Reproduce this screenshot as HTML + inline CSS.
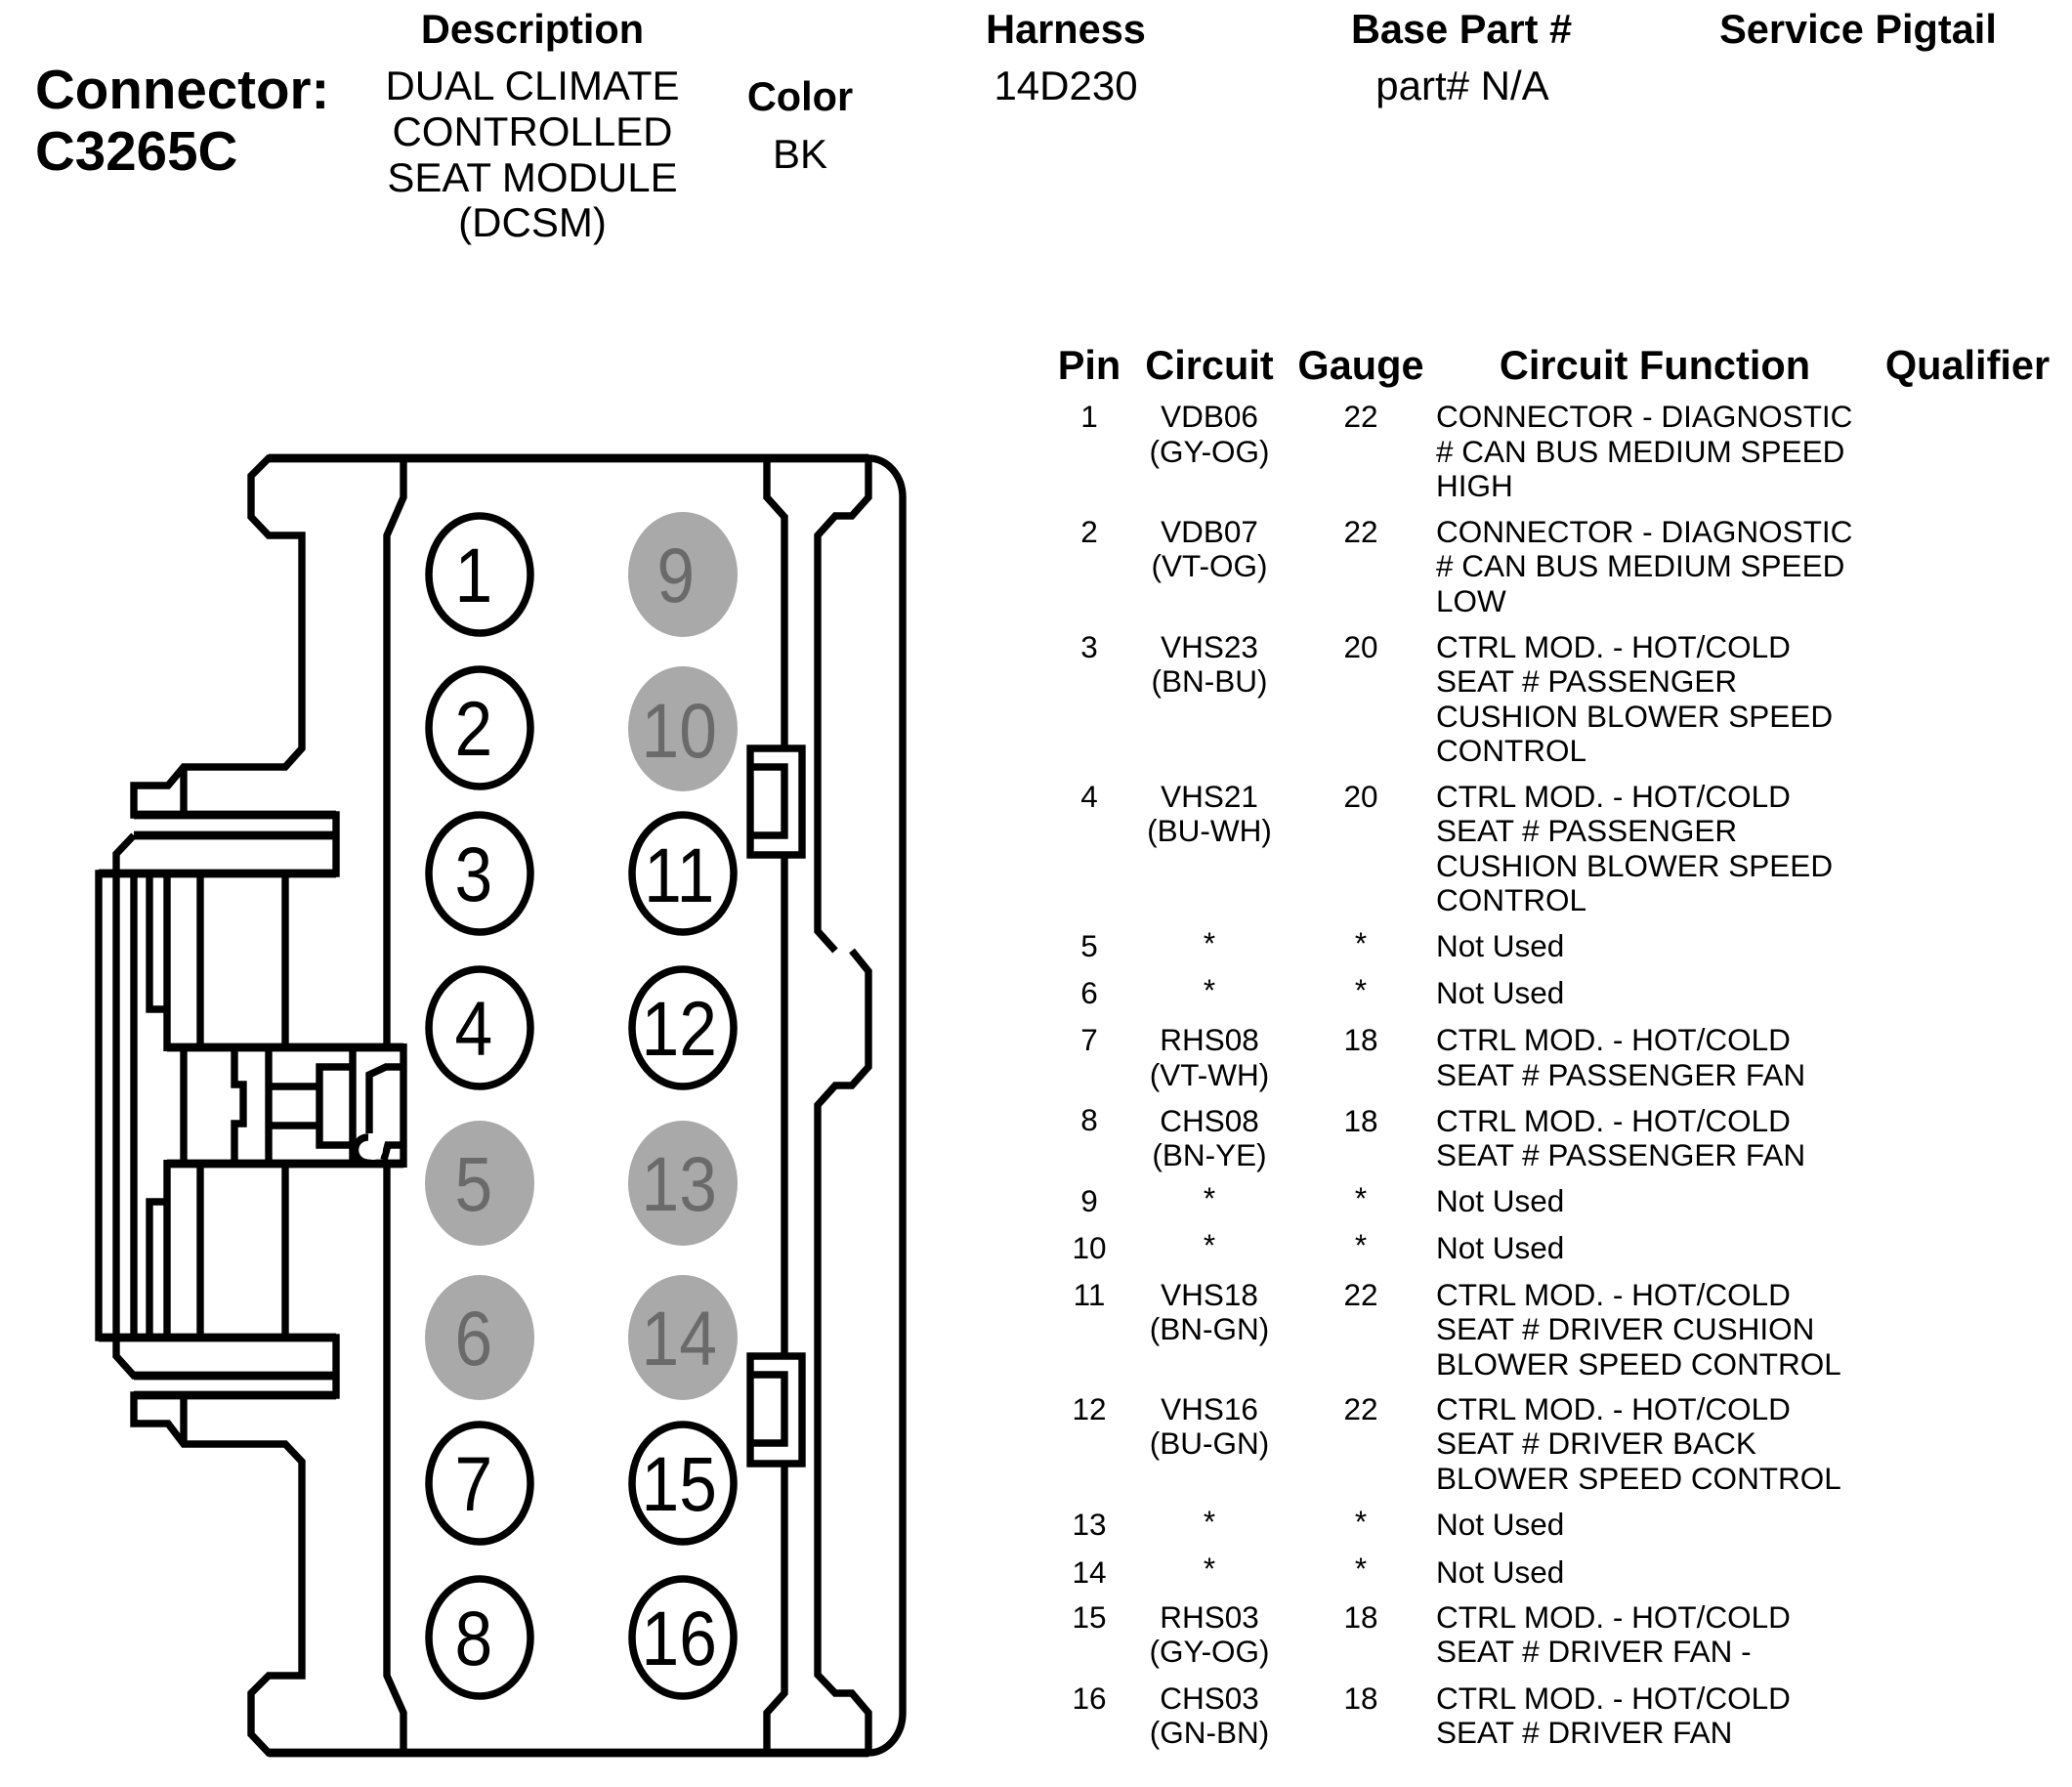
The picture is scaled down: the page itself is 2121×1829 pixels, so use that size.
<!DOCTYPE html>
<html><head><meta charset="utf-8"><style>
html,body{margin:0;padding:0;background:#fff}
svg{display:block}
text{font-family:"Liberation Sans",Arial,sans-serif;fill:#000}
.b{font-weight:bold;font-size:41.5px;text-anchor:middle}
.d{font-size:42px;text-anchor:middle}
.c{font-weight:bold;font-size:56.5px}
.t{font-size:31.5px}
.m{font-size:31.5px;text-anchor:middle}
.n{font-size:79px;text-anchor:middle}
.g{fill:#6a6a6a}
path,line{fill:none;stroke:#000;stroke-width:7.4;stroke-linejoin:miter}
path.h{stroke-width:8.8}
.p{fill:#fff;stroke:#000;stroke-width:7.5}
.q{fill:#a9a9a9;stroke:none}
</style></head><body>
<svg width="2121" height="1829" viewBox="0 0 2121 1829" xmlns="http://www.w3.org/2000/svg">
<rect width="2121" height="1829" fill="#fff"/>
<!-- outline -->
<path d="M889 469H275L257 487V529L275 548H309V766L292 785H188L172 804H137V834H344V894H101V1369H344V1428H137V1457H172L188 1478H292L309 1496V1715H275L257 1733V1775L275 1794H889"/>
<path d="M137 855H344M137 855L119 874V894M119 1369V1388L137 1408H344"/>
<path class="h" d="M275 469H889M275 1794H889M137 834H344M137 855H344M101 894H344M101 1369H344M137 1408H344M137 1428H344M171 1072H413M171 1191H413"/>
<path d="M188 785V834M188 1428V1478"/>
<path d="M119 894V1369M137 894V1369"/>
<path d="M153 894V1033H171M171 894V1076M205 894V1072M292 894V1072"/>
<path d="M153 1369V1230H171M171 1369V1187M205 1369V1191M292 1369V1191"/>
<path d="M413 1068V1195"/>
<path d="M413 469V509L396 548V1072M396 1191V1715L413 1753V1794"/>
<path d="M188 1072V1191M240 1072V1110H249V1150H240V1191M275 1072V1191M275 1112H327M275 1152H327M361 1072V1191"/>
<path d="M361 1092H327V1172H361"/>
<path d="M413 1092H395L378 1100V1160M413 1172H397L393 1187"/>
<path d="M377 1164A13 13 0 0 0 376 1190" stroke-width="6"/>
<circle cx="382" cy="1177" r="10" fill="#fff"/>
<!-- right side -->
<path d="M785 469V509L803 529V766M803 875V1388M803 1498V1733L785 1753V1794"/>
<path d="M889 469V509L872 528H855L837 548V953L855 973M872 973L889 994V1092L872 1111H855L837 1131V1714L855 1733H872L889 1753V1794"/>
<path d="M889 469A35 40 0 0 1 924 509V1753A35 41 0 0 1 889 1794"/>
<path d="M768 766H821V875H768ZM768 785H803V855H768"/>
<path d="M768 1388H821V1498H768ZM768 1407H803V1477H768"/>
<!-- pins -->
<ellipse class="p" cx="491" cy="588" rx="52" ry="60"/>
<ellipse class="p" cx="491" cy="745" rx="52" ry="60"/>
<ellipse class="p" cx="491" cy="894" rx="52" ry="60"/>
<ellipse class="p" cx="491" cy="1052" rx="52" ry="60"/>
<ellipse class="q" cx="491" cy="1211" rx="56" ry="64"/>
<ellipse class="q" cx="491" cy="1369" rx="56" ry="64"/>
<ellipse class="p" cx="491" cy="1518" rx="52" ry="60"/>
<ellipse class="p" cx="491" cy="1676" rx="52" ry="60"/>
<ellipse class="q" cx="699" cy="588" rx="56" ry="64"/>
<ellipse class="q" cx="699" cy="746" rx="56" ry="64"/>
<ellipse class="p" cx="699" cy="894" rx="52" ry="60"/>
<ellipse class="p" cx="699" cy="1052" rx="52" ry="60"/>
<ellipse class="q" cx="699" cy="1211" rx="56" ry="64"/>
<ellipse class="q" cx="699" cy="1369" rx="56" ry="64"/>
<ellipse class="p" cx="699" cy="1518" rx="52" ry="60"/>
<ellipse class="p" cx="699" cy="1676" rx="52" ry="60"/>
<g transform="scale(.88,1)">
<text class="n" x="551" y="616">1</text>
<text class="n" x="551" y="773">2</text>
<text class="n" x="551" y="922">3</text>
<text class="n" x="551" y="1080">4</text>
<text class="n g" x="551" y="1239">5</text>
<text class="n g" x="551" y="1397">6</text>
<text class="n" x="551" y="1546">7</text>
<text class="n" x="551" y="1704">8</text>
<text class="n g" x="786" y="616">9</text>
<text class="n g" x="790" y="775">10</text>
<text class="n" x="790" y="923">11</text>
<text class="n" x="790" y="1080">12</text>
<text class="n g" x="790" y="1239">13</text>
<text class="n g" x="790" y="1397">14</text>
<text class="n" x="790" y="1546">15</text>
<text class="n" x="790" y="1704">16</text>
</g>
<!-- top header -->
<text class="c" x="36" y="111">Connector:</text>
<text class="c" x="36" y="174">C3265C</text>
<text class="b" x="545" y="44">Description</text>
<text class="d" x="545" y="102">DUAL CLIMATE</text>
<text class="d" x="545" y="149">CONTROLLED</text>
<text class="d" x="545" y="196">SEAT MODULE</text>
<text class="d" x="545" y="242">(DCSM)</text>
<text class="b" x="819" y="113">Color</text>
<text class="d" x="819" y="172">BK</text>
<text class="b" x="1091" y="44">Harness</text>
<text class="d" x="1091" y="102">14D230</text>
<text class="b" x="1496" y="44">Base Part #</text>
<text class="d" x="1497" y="102">part# N/A</text>
<text class="b" x="1902" y="44">Service Pigtail</text>
<!-- table header -->
<text class="b" x="1115" y="388">Pin</text>
<text class="b" x="1238" y="388">Circuit</text>
<text class="b" x="1393" y="388">Gauge</text>
<text class="b" x="1694" y="388">Circuit Function</text>
<text class="b" x="2014" y="388">Qualifier</text>
<!-- rows -->
<text class="m" x="1115" y="437">1</text><text class="m" x="1238" y="437">VDB06</text><text class="m" x="1238" y="473">(GY-OG)</text><text class="m" x="1393" y="437">22</text>
<text class="t" x="1470" y="437">CONNECTOR - DIAGNOSTIC</text><text class="t" x="1470" y="473"># CAN BUS MEDIUM SPEED</text><text class="t" x="1470" y="508">HIGH</text>
<text class="m" x="1115" y="555">2</text><text class="m" x="1238" y="555">VDB07</text><text class="m" x="1238" y="590">(VT-OG)</text><text class="m" x="1393" y="555">22</text>
<text class="t" x="1470" y="555">CONNECTOR - DIAGNOSTIC</text><text class="t" x="1470" y="590"># CAN BUS MEDIUM SPEED</text><text class="t" x="1470" y="626">LOW</text>
<text class="m" x="1115" y="673">3</text><text class="m" x="1238" y="673">VHS23</text><text class="m" x="1238" y="708">(BN-BU)</text><text class="m" x="1393" y="673">20</text>
<text class="t" x="1470" y="673">CTRL MOD. - HOT/COLD</text><text class="t" x="1470" y="708">SEAT # PASSENGER</text><text class="t" x="1470" y="744">CUSHION BLOWER SPEED</text><text class="t" x="1470" y="779">CONTROL</text>
<text class="m" x="1115" y="826">4</text><text class="m" x="1238" y="826">VHS21</text><text class="m" x="1238" y="861">(BU-WH)</text><text class="m" x="1393" y="826">20</text>
<text class="t" x="1470" y="826">CTRL MOD. - HOT/COLD</text><text class="t" x="1470" y="861">SEAT # PASSENGER</text><text class="t" x="1470" y="897">CUSHION BLOWER SPEED</text><text class="t" x="1470" y="932">CONTROL</text>
<text class="m" x="1115" y="979">5</text><text class="m" x="1238" y="976">*</text><text class="m" x="1393" y="976">*</text><text class="t" x="1470" y="979">Not Used</text>
<text class="m" x="1115" y="1027">6</text><text class="m" x="1238" y="1024">*</text><text class="m" x="1393" y="1024">*</text><text class="t" x="1470" y="1027">Not Used</text>
<text class="m" x="1115" y="1075">7</text><text class="m" x="1238" y="1075">RHS08</text><text class="m" x="1238" y="1111">(VT-WH)</text><text class="m" x="1393" y="1075">18</text>
<text class="t" x="1470" y="1075">CTRL MOD. - HOT/COLD</text><text class="t" x="1470" y="1111">SEAT # PASSENGER FAN</text>
<text class="m" x="1115" y="1157">8</text><text class="m" x="1238" y="1158">CHS08</text><text class="m" x="1238" y="1193">(BN-YE)</text><text class="m" x="1393" y="1158">18</text>
<text class="t" x="1470" y="1158">CTRL MOD. - HOT/COLD</text><text class="t" x="1470" y="1193">SEAT # PASSENGER FAN</text>
<text class="m" x="1115" y="1240">9</text><text class="m" x="1238" y="1237">*</text><text class="m" x="1393" y="1237">*</text><text class="t" x="1470" y="1240">Not Used</text>
<text class="m" x="1115" y="1288">10</text><text class="m" x="1238" y="1285">*</text><text class="m" x="1393" y="1285">*</text><text class="t" x="1470" y="1288">Not Used</text>
<text class="m" x="1115" y="1336">11</text><text class="m" x="1238" y="1336">VHS18</text><text class="m" x="1238" y="1371">(BN-GN)</text><text class="m" x="1393" y="1336">22</text>
<text class="t" x="1470" y="1336">CTRL MOD. - HOT/COLD</text><text class="t" x="1470" y="1371">SEAT # DRIVER CUSHION</text><text class="t" x="1470" y="1407">BLOWER SPEED CONTROL</text>
<text class="m" x="1115" y="1453">12</text><text class="m" x="1238" y="1453">VHS16</text><text class="m" x="1238" y="1488">(BU-GN)</text><text class="m" x="1393" y="1453">22</text>
<text class="t" x="1470" y="1453">CTRL MOD. - HOT/COLD</text><text class="t" x="1470" y="1488">SEAT # DRIVER BACK</text><text class="t" x="1470" y="1524">BLOWER SPEED CONTROL</text>
<text class="m" x="1115" y="1571">13</text><text class="m" x="1238" y="1568">*</text><text class="m" x="1393" y="1568">*</text><text class="t" x="1470" y="1571">Not Used</text>
<text class="m" x="1115" y="1620">14</text><text class="m" x="1238" y="1616">*</text><text class="m" x="1393" y="1616">*</text><text class="t" x="1470" y="1620">Not Used</text>
<text class="m" x="1115" y="1666">15</text><text class="m" x="1238" y="1666">RHS03</text><text class="m" x="1238" y="1701">(GY-OG)</text><text class="m" x="1393" y="1666">18</text>
<text class="t" x="1470" y="1666">CTRL MOD. - HOT/COLD</text><text class="t" x="1470" y="1701">SEAT # DRIVER FAN -</text>
<text class="m" x="1115" y="1749">16</text><text class="m" x="1238" y="1749">CHS03</text><text class="m" x="1238" y="1784">(GN-BN)</text><text class="m" x="1393" y="1749">18</text>
<text class="t" x="1470" y="1749">CTRL MOD. - HOT/COLD</text><text class="t" x="1470" y="1784">SEAT # DRIVER FAN</text>
</svg>
</body></html>
